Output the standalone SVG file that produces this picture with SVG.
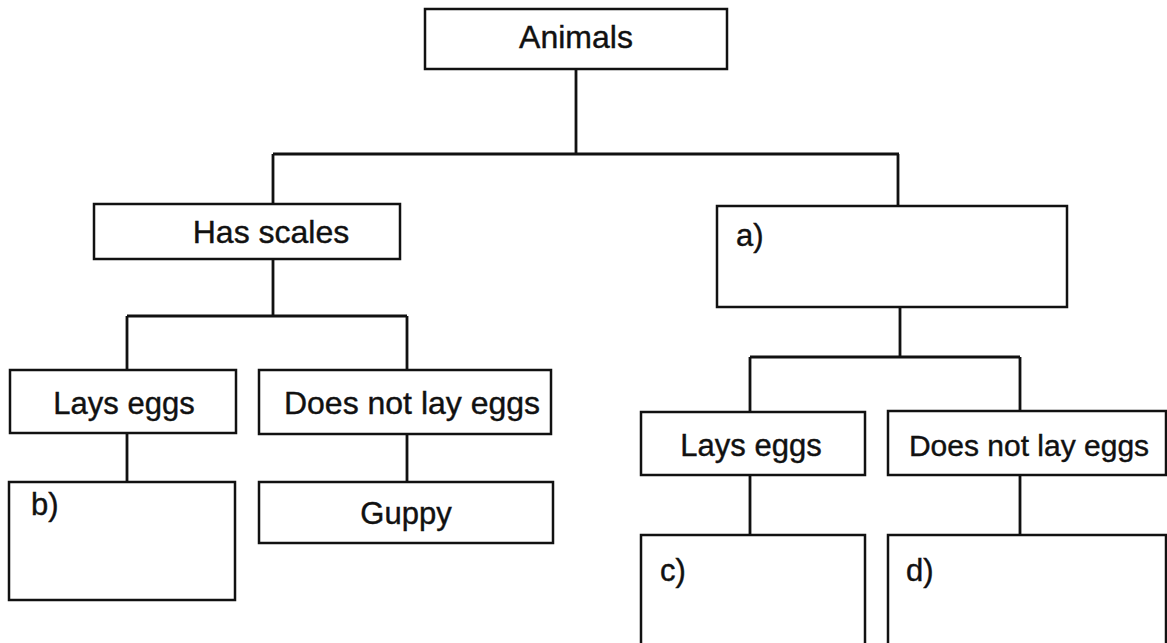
<svg xmlns="http://www.w3.org/2000/svg" width="1167" height="643" viewBox="0 0 1167 643">
<style>
.box{fill:#fff;stroke:#111;stroke-width:2.5}
.ln{stroke:#111;stroke-width:2.8;fill:none}
.t{font-family:"Liberation Sans",Arial,sans-serif;font-size:31px;fill:#111;stroke:#111;stroke-width:0.4}
.c{text-anchor:middle}
.big{font-size:32px}
.sm{font-size:30px}
</style>
<rect width="1167" height="643" fill="#fff"/>
<g id="connectors">
<path class="ln" d="M576,69V154M273,154H899M273,154V204M898,154V206"/>
<path class="ln" d="M273,259V316M127,316H407M127,316V370M407,316V370"/>
<path class="ln" d="M127,433V482M407,433V482"/>
<path class="ln" d="M900,307V357M750,357H1020M750,357V412M1020,357V411"/>
<path class="ln" d="M750,475V535M1020,475V535"/>
</g>
<g id="animals"><rect class="box" x="425" y="9" width="302" height="60"/><text class="t c big" x="576" y="48">Animals</text></g>
<g id="has-scales"><rect class="box" x="94" y="204" width="306" height="55"/><text class="t c big" x="271" y="243">Has scales</text></g>
<g id="a"><rect class="box" x="717" y="206" width="350" height="101"/><text class="t" x="736" y="246">a)</text></g>
<g id="lays-eggs-left"><rect class="box" x="10" y="370" width="226" height="63"/><text class="t c" x="124" y="414">Lays eggs</text></g>
<g id="no-eggs-left"><rect class="box" x="259" y="370" width="292" height="64"/><text class="t c big" x="412" y="414">Does not lay eggs</text></g>
<g id="b"><rect class="box" x="9" y="482" width="226" height="118"/><text class="t" x="31" y="515">b)</text></g>
<g id="guppy"><rect class="box" x="259" y="482" width="294" height="61"/><text class="t c" x="406" y="524">Guppy</text></g>
<g id="lays-eggs-right"><rect class="box" x="641" y="412" width="224" height="63"/><text class="t c" x="751" y="456">Lays eggs</text></g>
<g id="no-eggs-right"><rect class="box" x="888" y="411" width="278" height="64"/><text class="t c sm" x="1029" y="456">Does not lay eggs</text></g>
<g id="c"><rect class="box" x="641" y="535" width="224" height="120"/><text class="t" x="660" y="581">c)</text></g>
<g id="d"><rect class="box" x="888" y="535" width="278" height="120"/><text class="t" x="906" y="581">d)</text></g>
</svg>
